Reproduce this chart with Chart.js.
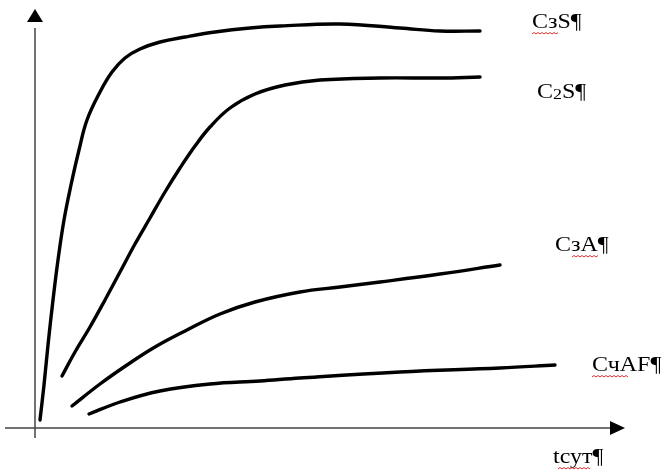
<!DOCTYPE html>
<html>
<head>
<meta charset="utf-8">
<script src="https://cdn.jsdelivr.net/npm/chart.js@4"></script>
<style>
html,body{margin:0;padding:0;background:#fff;}
canvas{display:block;}
</style>
</head>
<body>
<canvas id="c" width="665" height="472"></canvas>
<script>
// Curve values (arbitrary units)
const c3sX = [5,9,13,18,23,29,36,44,52,65,77,90,105,125,150,180,215,245,305,365,405,445];
const c3sY = [8,43,83,128,168,208,243,278,308,336,356,370,379,386,391,396,400,402,404,400,397,397];
const c2sX = [27,40,55,70,85,100,115,130,145,160,175,195,220,250,285,345,405,445];
const c2sY = [52,76,101,128,156,184,210,236,260,282,301,320,334,343,348,350,350,351];
const c3aX = [37,65,92,120,152,185,220,265,305,345,405,465];
const c3aY = [22,44,63,81,98,114,126,136,141,146,154,163];
const c4afX = [54,85,125,175,225,265,365,465,520];
const c4afY = [14,26,37,44,47,50,56,60,63];

const seriesNames = ["СзS¶", "C2S¶", "СзА¶", "СчАF¶"];
const axisLabel = "tсут¶";

const pts = (xs, ys) => xs.map((x, i) => ({x: x, y: ys[i]}));

const ds = (name, xs, ys) => ({
  label: name,
  data: pts(xs, ys),
  borderColor: '#000',
  borderWidth: 3.4,
  pointRadius: 0,
  showLine: true,
  fill: false,
  tension: 0.4,
  borderCapStyle: 'round',
  borderJoinStyle: 'round'
});

function squiggle(ctx, x0, x1, y) {
  ctx.save();
  ctx.strokeStyle = '#e03030';
  ctx.lineWidth = 1;
  ctx.beginPath();
  let up = true;
  ctx.moveTo(x0, y);
  for (let x = x0; x < x1; x += 2) {
    ctx.lineTo(x + 2, up ? y - 1.5 : y);
    up = !up;
  }
  ctx.stroke();
  ctx.restore();
}

const SX = 1.2;
function txt(ctx, s, x, y, font, dy) {
  ctx.save();
  ctx.font = font;
  ctx.translate(x, y + (dy || 0));
  ctx.scale(SX, 1);
  ctx.fillText(s, 0, 0);
  const w = ctx.measureText(s).width * SX;
  ctx.restore();
  return w;
}

const decor = {
  id: 'decor',
  afterDraw(chart) {
    const ctx = chart.ctx;
    const xs = chart.scales.x, ys = chart.scales.y;
    const ox = xs.getPixelForValue(0), oy = ys.getPixelForValue(0);
    ctx.save();
    // axes
    ctx.strokeStyle = '#444';
    ctx.lineWidth = 1.5;
    ctx.beginPath();
    ctx.moveTo(ox, ys.getPixelForValue(-10));
    ctx.lineTo(ox, ys.getPixelForValue(400));
    ctx.moveTo(xs.getPixelForValue(-30), oy);
    ctx.lineTo(xs.getPixelForValue(575), oy);
    ctx.stroke();
    ctx.fillStyle = '#000';
    // y arrow
    const ty = ys.getPixelForValue(419);
    ctx.beginPath();
    ctx.moveTo(ox, ty);
    ctx.lineTo(ox - 8, ty + 13);
    ctx.lineTo(ox + 8, ty + 13);
    ctx.closePath();
    ctx.fill();
    // x arrow
    const tx = xs.getPixelForValue(590);
    ctx.beginPath();
    ctx.moveTo(tx, oy);
    ctx.lineTo(tx - 15, oy - 7);
    ctx.lineTo(tx - 15, oy + 7);
    ctx.closePath();
    ctx.fill();

    // labels
    ctx.fillStyle = '#000';
    ctx.textBaseline = 'alphabetic';
    ctx.textAlign = 'left';
    const big = '20px "Liberation Serif", "Times New Roman", serif';
    const small = '15px "Liberation Serif", "Times New Roman", serif';
    // C3S
    let x = xs.getPixelForValue(497), y = ys.getPixelForValue(400);
    txt(ctx, seriesNames[0], x, y, big);
    squiggle(ctx, x, x + 25, y + 6);
    // C2S with small 2
    x = xs.getPixelForValue(502); y = ys.getPixelForValue(330);
    let w = txt(ctx, 'C', x, y, big);
    let w2 = txt(ctx, '2', x + w, y, small, 1);
    txt(ctx, 'S¶', x + w + w2, y, big);
    // C3A
    x = xs.getPixelForValue(520); y = ys.getPixelForValue(177);
    txt(ctx, seriesNames[2], x, y, big);
    squiggle(ctx, x + 17, x + 43, y + 6);
    // C4AF
    x = xs.getPixelForValue(557); y = ys.getPixelForValue(57);
    txt(ctx, seriesNames[3], x, y, big);
    squiggle(ctx, x, x + 36, y + 6);
    // axis label
    x = xs.getPixelForValue(518); y = ys.getPixelForValue(-35);
    txt(ctx, axisLabel, x, y, big);
    squiggle(ctx, x + 5, x + 37, y + 6);
    ctx.restore();
  }
};

new Chart(document.getElementById('c'), {
  type: 'scatter',
  data: {
    datasets: [
      ds(seriesNames[0], c3sX, c3sY),
      ds(seriesNames[1], c2sX, c2sY),
      ds(seriesNames[2], c3aX, c3aY),
      ds(seriesNames[3], c4afX, c4afY)
    ]
  },
  options: {
    responsive: false,
    animation: false,
    layout: {padding: {left: 35, right: 40, top: 10, bottom: 44}},
    plugins: {legend: {display: false}, tooltip: {enabled: false}},
    scales: {
      x: {type: 'linear', min: 0, max: 590, display: false},
      y: {type: 'linear', min: 0, max: 418, display: false}
    }
  },
  plugins: [decor]
});
</script>
</body>
</html>
